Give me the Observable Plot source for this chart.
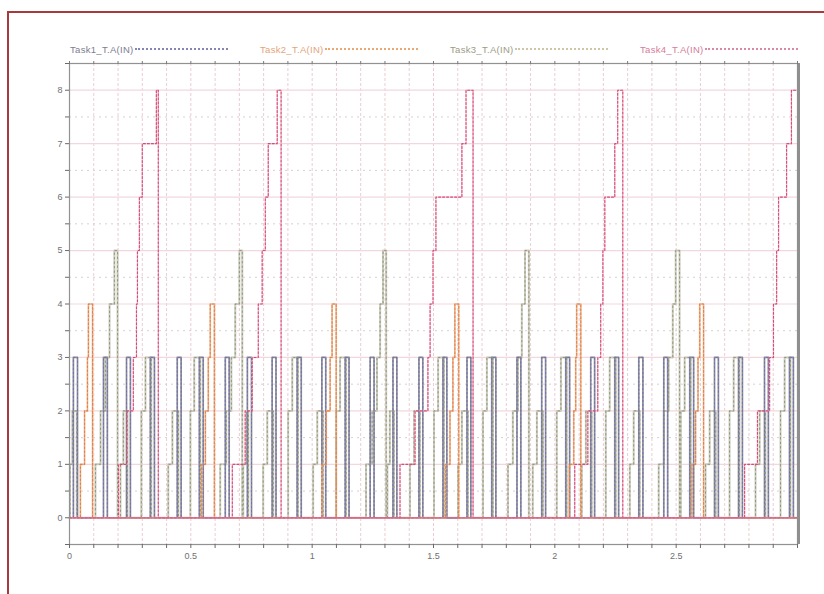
<!DOCTYPE html>
<html>
<head>
<meta charset="utf-8">
<script src="https://cdn.jsdelivr.net/npm/d3@7"></script>
<script src="https://cdn.jsdelivr.net/npm/@observablehq/plot@0.6"></script>
<style>
  html, body { margin:0; padding:0; background:#fff; overflow:hidden; }
  #wrap { position:relative; width:824px; height:594px; overflow:hidden; }
  #border { position:absolute; left:7px; top:11px; width:900px; height:700px; border:2px solid #a63a3c; box-sizing:border-box; }
  #chart { position:absolute; left:0; top:0; }
  .leg { position:absolute; top:44px; width:158px; display:flex; align-items:flex-start;
         font:9.5px "Liberation Sans", Arial, sans-serif; letter-spacing:0.3px; }
  .leg span { white-space:nowrap; line-height:12px; }
  .leg i { flex:1; border-top:2px dotted; margin-top:4px; margin-left:1px; }
</style>
</head>
<body>
<div id="wrap">
  <div id="border"></div>
  <div id="chart"></div>
  <div id="legend"></div>
</div>
<script>
// ---- data ----
const taskNames = ["Task1_T.A(IN)", "Task2_T.A(IN)", "Task3_T.A(IN)", "Task4_T.A(IN)"];

const task1Times = [0,
  0.016,0.033, 0.14,0.156, 0.235,0.251, 0.333,0.35, 0.444,0.46, 0.535,0.551, 0.642,0.658, 0.733,0.75, 0.835,0.851, 0.938,0.955,
  1.04,1.056, 1.136,1.152, 1.239,1.255, 1.333,1.349, 1.44,1.456, 1.539,1.555, 1.638,1.654, 1.74,1.757, 1.844,1.86, 1.946,1.962,
  2.045,2.061, 2.148,2.164, 2.247,2.263, 2.346,2.363, 2.449,2.465, 2.556,2.572, 2.658,2.674, 2.757,2.773, 2.864,2.88, 2.967,2.983,
  3];
const task1Values = [0,
  3,0, 3,0, 3,0, 3,0, 3,0, 3,0, 3,0, 3,0, 3,0, 3,0,
  3,0, 3,0, 3,0, 3,0, 3,0, 3,0, 3,0, 3,0, 3,0, 3,0,
  3,0, 3,0, 3,0, 3,0, 3,0, 3,0, 3,0, 3,0, 3,0, 3,0,
  0];

const task2Times = [0,
  0.045,0.062,0.074,0.078,0.095,
  0.545,0.56,0.572,0.58,0.597,
  1.04,1.058,1.074,1.082,1.099,
  1.55,1.568,1.58,1.588,1.604,
  2.06,2.078,2.086,2.09,2.107,
  2.565,2.58,2.59,2.597,2.613,
  3];
const task2Values = [0,
  1,2,3,4,0,
  1,2,3,4,0,
  1,2,3,4,0,
  1,2,3,4,0,
  1,2,3,4,0,
  1,2,3,4,0,
  0];

const task3Times = [0,
  0.002,0.012,0.03,
  0.107,0.128,0.148,0.165,0.185,0.198,
  0.21,0.222,0.239,
  0.296,0.313,0.337,
  0.407,0.424,0.449,
  0.498,0.514,0.539,
  0.621,0.646,0.667,0.683,0.7,0.712,
  0.716,0.73,0.737,
  0.798,0.815,0.84,
  0.901,0.918,0.942,
  1.004,1.021,1.045,
  1.099,1.115,1.14,
  1.222,1.247,1.267,1.28,1.292,1.305,
  1.31,1.32,1.337,
  1.403,1.42,1.444,
  1.502,1.519,1.543,
  1.601,1.617,1.642,
  1.704,1.72,1.745,
  1.807,1.827,1.848,1.864,1.877,1.893,
  1.909,1.926,1.951,
  2.008,2.025,2.049,
  2.111,2.128,2.152,
  2.21,2.226,2.251,
  2.309,2.325,2.35,
  2.428,2.449,2.469,2.486,2.498,2.514,
  2.519,2.535,2.56,
  2.621,2.638,2.663,
  2.72,2.737,2.761,
  2.827,2.844,2.868,
  2.93,2.947,2.971,
  3];
const task3Values = [0,
  1,2,0,
  1,2,3,4,5,0,
  1,2,0,
  2,3,0,
  1,2,0,
  2,3,0,
  1,2,3,4,5,0,
  1,2,0,
  1,2,0,
  2,3,0,
  1,2,0,
  2,3,0,
  1,2,3,4,5,0,
  1,2,0,
  1,2,0,
  2,3,0,
  1,2,0,
  2,3,0,
  1,2,3,4,5,0,
  1,2,0,
  2,3,0,
  1,2,0,
  2,3,0,
  1,2,0,
  1,2,3,4,5,0,
  2,3,0,
  1,2,0,
  2,3,0,
  1,2,0,
  2,3,0,
  0];

const task4Times = [0,
  0.202,0.235,0.263,0.276,0.28,0.288,0.3,0.358,0.366,
  0.671,0.724,0.753,0.778,0.794,0.807,0.819,0.856,0.872,
  1.362,1.424,1.477,1.486,1.498,1.51,1.617,1.634,1.663,
  2.082,2.136,2.177,2.189,2.198,2.206,2.247,2.259,2.28,
  2.782,2.835,2.885,2.901,2.914,2.922,2.955,2.975,
  3];
const task4Values = [0,
  1,2,3,4,5,6,7,8,0,
  1,2,3,4,5,6,7,8,0,
  1,2,3,4,5,6,7,8,0,
  1,2,3,4,5,6,7,8,0,
  1,2,3,4,5,6,7,8,
  8];

const xLabelTicks = [0, 0.5, 1, 1.5, 2, 2.5];
const yLabelTicks = [0, 1, 2, 3, 4, 5, 6, 7, 8];

// ---- build tables ----
const seriesTimes = [task1Times, task2Times, task3Times, task4Times];
const seriesValues = [task1Values, task2Values, task3Values, task4Values];
const tables = seriesTimes.map((ts, i) => ts.map((t, j) => ({task: taskNames[i], t, v: seriesValues[i][j]})));

const styles = [
  {under:"#8c8c94", over:"#7070b8", uw:1.7, dash:"1.5,2.5", ow:1},
  {under:"#eebc98", over:"#e2824a", uw:1.7, dash:"2,2", ow:1.1},
  {under:"#cdcac0", over:"#8c9a72", uw:2.0, dash:"1.5,3", ow:1},
  {under:"#f3c6d3", over:"#d64c78", uw:1.4, dash:"2,2", ow:1.1}
];
const legendText = ["#7d7d90", "#e4a47a", "#9c9c84", "#d67c9a"];
const legendLine = ["#8484b6", "#eba872", "#cdc6a8", "#da88a6"];

const xMinor = d3.range(0, 30.01, 1).map(d => +(d / 10).toFixed(1));
const yMinor = d3.range(-1, 17.01, 1).map(d => d / 2);
const yInt = yMinor.filter(d => Number.isInteger(d));
const yHalf = yMinor.filter(d => !Number.isInteger(d));

// draw order: Task3, Task1, Task2, Task4
const order = [2, 0, 1, 3];
const lineMarks = [];
for (const i of order) {
  lineMarks.push(Plot.line(tables[i], {x:"t", y:"v", curve:"step-after", stroke:styles[i].under, strokeWidth:styles[i].uw}));
}
for (const i of order) {
  lineMarks.push(Plot.line(tables[i], {x:"t", y:"v", curve:"step-after", stroke:styles[i].over, strokeWidth:styles[i].ow, strokeDasharray:styles[i].dash}));
}

const chart = Plot.plot({
  width: 824,
  height: 594,
  marginLeft: 69,
  marginRight: 27,
  marginTop: 63,
  marginBottom: 50,
  x: {domain:[0, 3], label:null},
  y: {domain:[-0.5, 8.5], label:null},
  style: {fontFamily:"'Liberation Sans', Arial, sans-serif", fontSize:"9px", color:"#666", background:"transparent", overflow:"visible"},
  marks: [
    Plot.ruleX(xMinor.filter(d => d > 0 && d < 3), {stroke:"#eacdd2", strokeWidth:1, strokeDasharray:"3,2"}),
    Plot.ruleY(yInt, {stroke:"#f2d8dd", strokeWidth:1.2}),
    Plot.ruleY(yHalf, {stroke:"#d9cfd0", strokeWidth:1, strokeDasharray:"2,4"}),
    ...lineMarks,
    Plot.ruleY([0], {x1:0, x2:3, stroke:"#dc6a8c", strokeWidth:1.2}),
    Plot.frame({stroke:"#929292", strokeWidth:1.2}),
    Plot.ruleX([3], {stroke:"#8f8f8f", strokeWidth:3, dx:1}),
    Plot.axisX({ticks:xMinor, tickSize:4, tickFormat:d => xLabelTicks.includes(d) ? String(d) : "", tickPadding:4, stroke:"#6a6a6a", fill:"#707070", label:null}),
    Plot.axisX({anchor:"top", ticks:xMinor, tickSize:3, tickFormat:() => "", stroke:"#7a7a7a", label:null}),
    Plot.axisY({ticks:yMinor, tickSize:4, tickFormat:d => yLabelTicks.includes(d) ? String(d) : "", tickPadding:3, stroke:"#6a6a6a", fill:"#707070", label:null})
  ]
});
document.getElementById("chart").appendChild(chart);

// legend
const legX = [70, 260, 450, 640];
const leg = document.getElementById("legend");
taskNames.forEach((name, i) => {
  const d = document.createElement("div");
  d.className = "leg";
  d.style.left = legX[i] + "px";
  const s = document.createElement("span");
  s.textContent = name;
  s.style.color = legendText[i];
  const ln = document.createElement("i");
  ln.style.borderColor = legendLine[i];
  d.appendChild(s);
  d.appendChild(ln);
  leg.appendChild(d);
});
</script>
</body>
</html>
